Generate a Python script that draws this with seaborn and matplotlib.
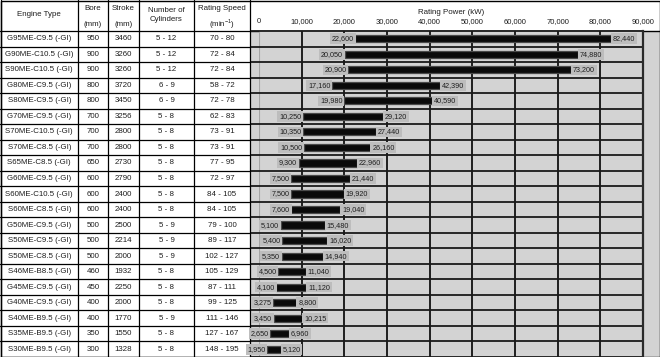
import matplotlib
matplotlib.use("Agg")
import matplotlib.pyplot as plt
import seaborn as sns
from matplotlib.patches import Rectangle

# ==========================
# Datos
# ==========================
engines = ["G95ME-C9.5 (-GI)", "G90ME-C10.5 (-GI)", "S90ME-C10.5 (-GI)",
           "G80ME-C9.5 (-GI)", "S80ME-C9.5 (-GI)", "G70ME-C9.5 (-GI)",
           "S70ME-C10.5 (-GI)", "S70ME-C8.5 (-GI)", "S65ME-C8.5 (-GI)",
           "G60ME-C9.5 (-GI)", "S60ME-C10.5 (-GI)", "S60ME-C8.5 (-GI)",
           "G50ME-C9.5 (-GI)", "S50ME-C9.5 (-GI)", "S50ME-C8.5 (-GI)",
           "S46ME-B8.5 (-GI)", "G45ME-C9.5 (-GI)", "G40ME-C9.5 (-GI)",
           "S40ME-B9.5 (-GI)", "S35ME-B9.5 (-GI)", "S30ME-B9.5 (-GI)"]
bore = [950, 900, 900, 800, 800, 700, 700, 700, 650, 600, 600, 600,
        500, 500, 500, 460, 450, 400, 400, 350, 300]
stroke = [3460, 3260, 3260, 3720, 3450, 3256, 2800, 2800, 2730, 2790, 2400, 2400,
          2500, 2214, 2000, 1932, 2250, 2000, 1770, 1550, 1328]
cylinders = ["5 - 12", "5 - 12", "5 - 12", "6 - 9", "6 - 9", "5 - 8", "5 - 8",
             "5 - 8", "5 - 8", "5 - 8", "5 - 8", "5 - 8", "5 - 9", "5 - 9",
             "5 - 9", "5 - 8", "5 - 8", "5 - 8", "5 - 9", "5 - 8", "5 - 8"]
speed = ["70 - 80", "72 - 84", "72 - 84", "58 - 72", "72 - 78", "62 - 83",
         "73 - 91", "73 - 91", "77 - 95", "72 - 97", "84 - 105", "84 - 105",
         "79 - 100", "89 - 117", "102 - 127", "105 - 129", "87 - 111",
         "99 - 125", "111 - 146", "127 - 167", "148 - 195"]
p_min = [22600, 20050, 20900, 17160, 19980, 10250, 10350, 10500, 9300, 7500, 7500,
         7600, 5100, 5400, 5350, 4500, 4100, 3275, 3450, 2650, 1950]
p_max = [82440, 74880, 73200, 42390, 40590, 29120, 27440, 26160, 22960, 21440, 19920,
         19040, 15480, 16020, 14940, 11040, 11120, 8800, 10215, 6960, 5120]
x_ticks = [0, 10000, 20000, 30000, 40000, 50000, 60000, 70000, 80000, 90000]

p_span = [hi - lo for lo, hi in zip(p_min, p_max)]

# ==========================
# Layout (pixeles)
# ==========================
W, H = 660, 357
HEAD = 31
N = len(engines)
ROW = (H - HEAD) / N
COL_EDGES = [0.5, 78, 108, 139, 194, 250]
PLOT_L, PLOT_R = 259, 643
GRAY = "#d3d3d3"
BOX = "#bdbdbd"
TXT = "#1e1e1e"

sns.set_style("white")
plt.rcParams["font.family"] = ["Liberation Sans", "DejaVu Sans"]

fig = plt.figure(figsize=(W / 100, H / 100), dpi=100)

# ==========================
# Tabla (coordenadas en pixeles)
# ==========================
tab = fig.add_axes([0, 0, 1, 1], zorder=0)
tab.set_xlim(0, W)
tab.set_ylim(H, 0)
tab.axis("off")
tab.add_patch(Rectangle((250, HEAD), W - 250, H - HEAD, fc=GRAY, ec="none"))

for x in COL_EDGES:
    tab.plot([x, x], [0, H], color="black", lw=0.9)
for k in range(N + 1):
    y = HEAD + k * ROW
    tab.plot([0, 250], [y, y], color="black", lw=0.9)
tab.plot([250, W], [HEAD, HEAD], color="black", lw=1.0)
tab.add_patch(Rectangle((0.5, 0.5), W - 1, H - 1, fc="none", ec="black", lw=1.0))

centers = [(COL_EDGES[j] + COL_EDGES[j + 1]) / 2 for j in range(5)]
fs = 5.7
tab.text(centers[0], 15, "Engine Type", ha="center", va="center", fontsize=fs, color=TXT)
tab.text(centers[1], 8, "Bore", ha="center", va="center", fontsize=fs, color=TXT)
tab.text(centers[1], 24, "(mm)", ha="center", va="center", fontsize=fs, color=TXT)
tab.text(centers[2], 8, "Stroke", ha="center", va="center", fontsize=fs, color=TXT)
tab.text(centers[2], 24, "(mm)", ha="center", va="center", fontsize=fs, color=TXT)
tab.text(centers[3], 10, "Number of", ha="center", va="center", fontsize=fs, color=TXT)
tab.text(centers[3], 19.5, "Cylinders", ha="center", va="center", fontsize=fs, color=TXT)
tab.text(centers[4], 8, "Rating Speed", ha="center", va="center", fontsize=fs, color=TXT)
tab.text(centers[4], 24, r"(min$^{\mathregular{-1}}$)", ha="center", va="center",
         fontsize=fs, color=TXT)

for i in range(N):
    y = HEAD + (i + 0.5) * ROW
    vals = [engines[i], str(bore[i]), str(stroke[i]), cylinders[i], speed[i]]
    for c, v in zip(centers, vals):
        tab.text(c, y, v, ha="center", va="center", fontsize=fs, color=TXT)

# ==========================
# Grafico de barras
# ==========================
ax = fig.add_axes([PLOT_L / W, 0, (PLOT_R - PLOT_L) / W, (H - HEAD) / H], zorder=1)
ax.set_facecolor(GRAY)

sns.barplot(x=p_span, y=engines, left=p_min, orient="h", color="#0a0a0a",
            saturation=1, errorbar=None, width=0.46, edgecolor="#4a4a4a",
            linewidth=0.9, zorder=3, ax=ax)

ax.set_xlim(0, 90000)
ax.set_ylim(N - 0.5, -0.5)
ax.set_ylabel("")
ax.set_yticks([])

# lineas de la rejilla
ax.vlines(x_ticks[1:-1], -0.5, N - 0.5, color="#111111", lw=1.3, zorder=1)
ax.vlines(0, -0.5, N - 0.5, color="#a5a5a5", lw=0.8, zorder=1)
ax.hlines([k - 0.5 for k in range(N + 1)], -1800, 90000, color="#1a1a1a",
          lw=1.3, zorder=2, clip_on=False)

for side in ["left", "top", "bottom"]:
    ax.spines[side].set_visible(False)
ax.spines["right"].set_color("#2a2a2a")
ax.spines["right"].set_linewidth(1.6)

ax.xaxis.tick_top()
ax.xaxis.set_label_position("top")
ax.set_xticks(x_ticks)
ax.set_xticklabels([f"{v:,}" for v in x_ticks], fontsize=5.5, color=TXT)
ax.tick_params(axis="x", length=0, pad=4)
ax.set_xlabel("Rating Power (kW)", fontsize=5.7, color=TXT, labelpad=3)

# etiquetas de los extremos
box = dict(boxstyle="square,pad=0.25", fc=BOX, ec="none")
for i in range(N):
    ax.annotate(f"{p_min[i]:,}", xy=(p_min[i], i), xytext=(-1.2, 0),
                textcoords="offset points", ha="right", va="center",
                fontsize=5.2, color=TXT, bbox=box, zorder=4)
    ax.annotate(f"{p_max[i]:,}", xy=(p_max[i], i), xytext=(1.2, 0),
                textcoords="offset points", ha="left", va="center",
                fontsize=5.2, color=TXT, bbox=box, zorder=4)

plt.savefig("out.png", dpi=100)
